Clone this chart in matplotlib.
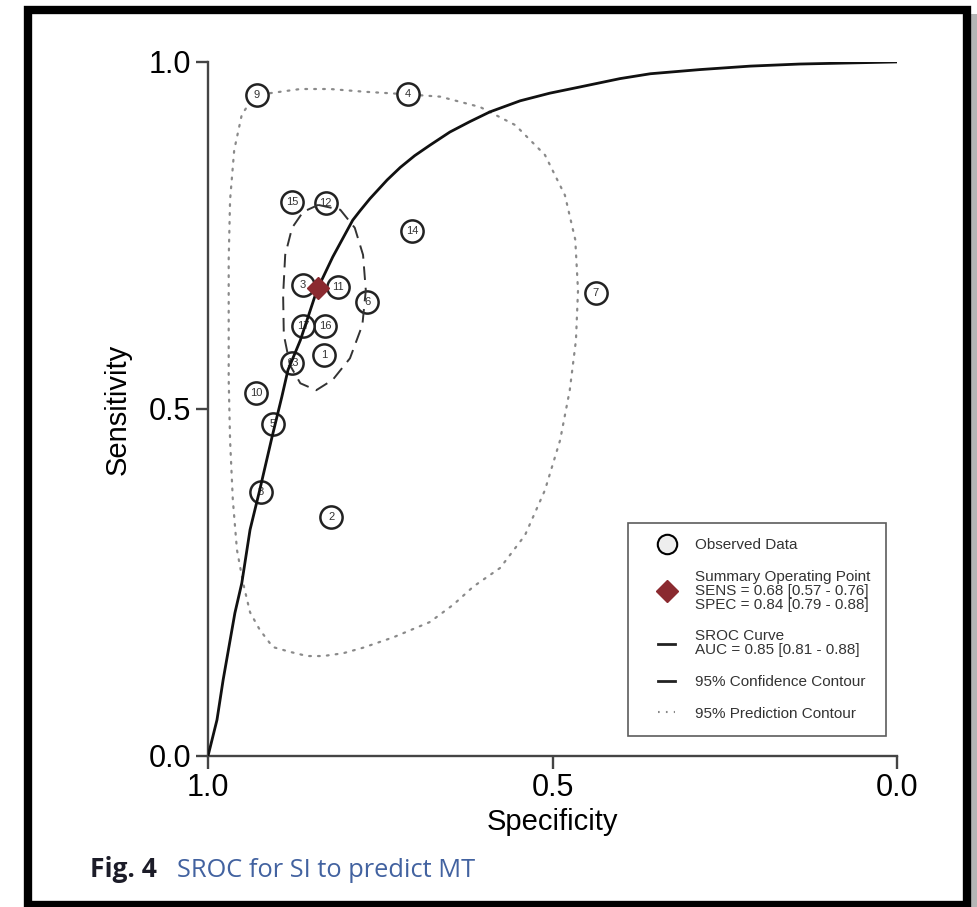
import matplotlib
matplotlib.use("Agg")
from matplotlib import pyplot as plt
from matplotlib.lines import Line2D
from matplotlib.patches import Rectangle
from matplotlib.legend_handler import HandlerLine2D

# observed studies (specificity, sensitivity)
study_ids = ['1', '2', '3', '4', '5', '6', '7', '8', '9', '10',
             '11', '12', '13', '14', '15', '16', '17']
study_spec = [0.832, 0.821, 0.862, 0.710, 0.906, 0.769, 0.437, 0.923, 0.929, 0.930,
              0.811, 0.829, 0.878, 0.704, 0.878, 0.830, 0.862]
study_sens = [0.578, 0.344, 0.679, 0.954, 0.478, 0.654, 0.667, 0.380, 0.952, 0.523,
              0.676, 0.797, 0.566, 0.756, 0.798, 0.620, 0.620]

# summary operating point
summ_spec = 0.84
summ_sens = 0.675

# SROC curve
sroc_spec = [1.0, 0.987, 0.978, 0.961, 0.951, 0.939, 0.925, 0.907, 0.893, 0.884, 0.866,
             0.842, 0.819, 0.790, 0.779, 0.765, 0.740, 0.721, 0.700, 0.678, 0.649,
             0.620, 0.591, 0.547, 0.504, 0.460, 0.402, 0.358, 0.286, 0.213, 0.141, 0.0]
sroc_sens = [0.0, 0.052, 0.110, 0.206, 0.249, 0.326, 0.383, 0.460, 0.517, 0.556, 0.599,
             0.671, 0.719, 0.772, 0.786, 0.803, 0.830, 0.848, 0.865, 0.880, 0.899,
             0.914, 0.928, 0.944, 0.955, 0.964, 0.976, 0.983, 0.989, 0.994, 0.997, 1.0]

# 95% confidence contour
conf_spec = [0.840, 0.808, 0.787, 0.775, 0.771, 0.776, 0.794, 0.819, 0.843, 0.866,
             0.881, 0.890, 0.891, 0.888, 0.878, 0.862, 0.840]
conf_sens = [0.794, 0.787, 0.761, 0.722, 0.671, 0.621, 0.573, 0.542, 0.527, 0.537,
             0.563, 0.607, 0.664, 0.722, 0.761, 0.784, 0.794]

# 95% prediction contour
pred_spec = [0.910, 0.866, 0.823, 0.772, 0.721, 0.663, 0.605, 0.554, 0.511, 0.482,
             0.467, 0.463, 0.466, 0.475, 0.489, 0.511, 0.540, 0.576, 0.615, 0.644,
             0.678, 0.731, 0.775, 0.804, 0.833, 0.856, 0.881, 0.906, 0.925, 0.939,
             0.949, 0.958, 0.964, 0.968, 0.970, 0.970, 0.970, 0.968, 0.962, 0.951,
             0.939, 0.910]
pred_sens = [0.955, 0.961, 0.961, 0.957, 0.954, 0.950, 0.935, 0.909, 0.866, 0.808,
             0.744, 0.671, 0.599, 0.527, 0.455, 0.383, 0.318, 0.271, 0.244, 0.218,
             0.193, 0.171, 0.156, 0.148, 0.144, 0.144, 0.150, 0.157, 0.182, 0.207,
             0.249, 0.297, 0.369, 0.455, 0.542, 0.628, 0.715, 0.801, 0.873, 0.924,
             0.942, 0.955]

legend_labels = ['Observed Data',
                 'Summary Operating Point\nSENS = 0.68 [0.57 - 0.76]\nSPEC = 0.84 [0.79 - 0.88]',
                 'SROC Curve\nAUC = 0.85 [0.81 - 0.88]',
                 '95% Confidence Contour',
                 '95% Prediction Contour']

plt.rcParams['font.family'] = ['Liberation Sans', 'DejaVu Sans']

fig = plt.figure(figsize=(9.78, 9.07), dpi=100)
ax = fig.add_axes([0.2127, 0.1665, 0.7045, 0.7652])

red = '#8b2a30'

ax.plot(pred_spec, pred_sens, color='#8a8a8a', lw=1.6, ls=(0, (0.8, 3.2)),
        dash_capstyle='round', zorder=2)
ax.plot(study_spec, study_sens, 'o', ms=16, mfc='white', mec='#222222', mew=1.8,
        zorder=3, clip_on=False)
for s, x, y in zip(study_ids, study_spec, study_sens):
    ax.text(x, y, s, fontsize=8, ha='center', va='center', color='#333333', zorder=4)
ax.plot(conf_spec, conf_sens, color='#333333', lw=1.4, ls=(0, (7, 4)), zorder=5)
ax.plot(sroc_spec, sroc_sens, color='#111111', lw=2.0, zorder=5)
ax.plot([summ_spec], [summ_sens], 'D', ms=11, color=red, mec=red, zorder=6)

ax.set_xlim(1.0, 0.0)
ax.set_ylim(0.0, 1.0)
ax.set_xticks([1.0, 0.5, 0.0])
ax.set_xticklabels(['1.0', '0.5', '0.0'])
ax.set_yticks([0.0, 0.5, 1.0])
ax.set_yticklabels(['0.0', '0.5', '1.0'])
for side in ['top', 'right']:
    ax.spines[side].set_visible(False)
for side in ['left', 'bottom']:
    ax.spines[side].set_color('#444444')
    ax.spines[side].set_linewidth(1.7)
ax.tick_params(direction='out', length=9, width=1.7, color='#444444',
               labelsize=22, pad=3)
ax.set_xlabel('Specificity', fontsize=21, labelpad=4)
ax.set_ylabel('Sensitivity', fontsize=21, labelpad=12)

handles = [Line2D([], [], marker='o', ls='none', ms=14, mfc='#eeeeee', mec='black', mew=1.5),
           Line2D([], [], marker='D', ls='none', ms=11, color=red),
           Line2D([], [], color='#222222', lw=2),
           Line2D([], [], color='#222222', lw=2),
           Line2D([], [], color='#888888', lw=1.5, ls=(0, (0.8, 3)))]
hmap = {h: HandlerLine2D(xpad=0.96) for h in handles}
leg = ax.legend(handles, legend_labels, handler_map=hmap, loc='lower right',
                bbox_to_anchor=(0.984, 0.029),
                fontsize=11, frameon=True, fancybox=False, edgecolor='#333333',
                handlelength=2.08, handletextpad=1.3, labelspacing=1.15,
                borderpad=1.0, borderaxespad=0)
leg.get_frame().set_linewidth(1.2)
for t in leg.get_texts():
    t.set_linespacing(1.0)
    t.set_color('#333333')

# caption
fig.text(0.092, 0.033, 'Fig. 4', fontsize=19, fontweight='bold', color='#1c1c28',
         family='Open Sans', ha='left', va='baseline')
fig.text(0.181, 0.033, 'SROC for SI to predict MT', fontsize=18.3, color='#4262a0',
         family='Open Sans', ha='left', va='baseline')

# outer frame with a little shadow on the right
fig.add_artist(Rectangle((0.9925, 0.0), 0.01, 0.985, transform=fig.transFigure,
                         facecolor='#b5b5b5', edgecolor='none'))
fig.add_artist(Rectangle((0.0286, 0.0022), 0.9602, 0.9868, transform=fig.transFigure,
                         fill=False, edgecolor='black', lw=6))

fig.savefig('out.png', dpi=100)
